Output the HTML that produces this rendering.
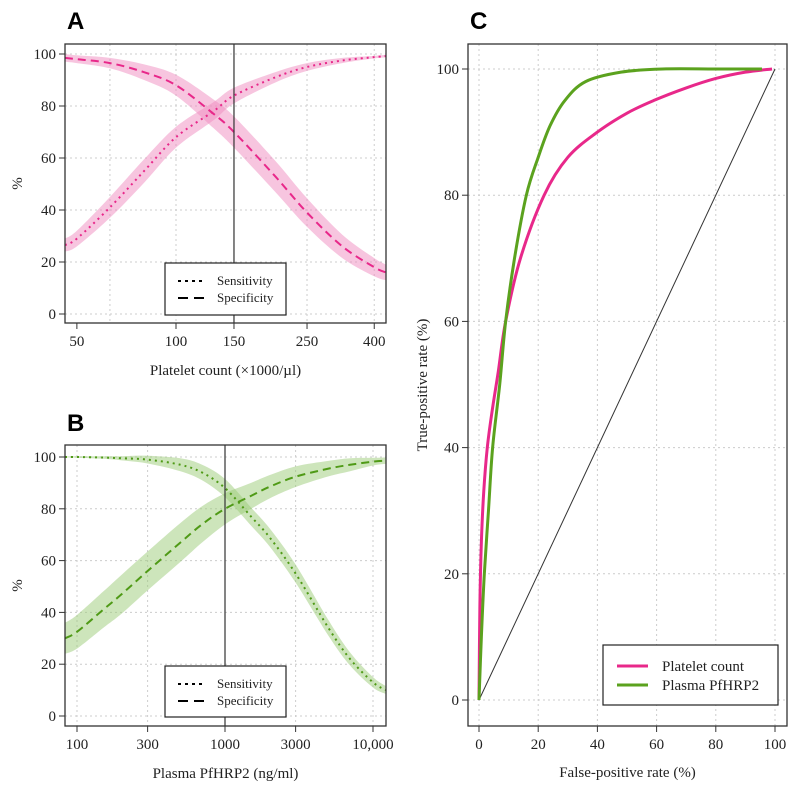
<!DOCTYPE html>
<html><head><meta charset="utf-8">
<style>
html,body{margin:0;padding:0;background:#fff}
svg{display:block}
text{font-family:"Liberation Serif",serif;fill:#222}
.tick{font-size:15px}
.lab{font-size:15px}
.title{font-family:"Liberation Sans",sans-serif;font-weight:bold;font-size:24px;fill:#000}
.grid{stroke:#ccc;stroke-dasharray:2,3;stroke-width:1}
</style></head>
<body>
<svg id="fig" width="800" height="792" viewBox="0 0 800 792" xmlns="http://www.w3.org/2000/svg"></svg>
<script>
// ---- Panel A data (platelet count) ----
const aX = [46,50,63,80,100,130,150,200,250,320,400,434];
const aSens = [26.5,29,41,55,68,78,84,91,95,97.5,98.8,99.2];
const aSensErr = [2.5,3,4,4.5,4,3.5,3,2,1.5,1,0.5,0.5];
const aSpec = [98.5,98,96.5,93,88,77,70,53,39,26,18,16];
const aSpecErr = [1.5,1.5,2,3,4,5.5,6,6,5.5,4.5,3.5,3];
const aTicks = [50,100,150,250,400];
const aGrid = [63,100,250,400];
// ---- Panel B data (PfHRP2) ----
const bX = [83,100,150,200,300,500,700,1000,1500,2000,3000,5000,7000,10000,12240];
const bSens = [100,100,99.8,99.5,99,97,94,88,77,69,55,34,22,13,10];
const bSensErr = [0.2,0.3,0.5,0.8,1.5,2.5,3,3.5,3.5,3.5,3.5,3,2.5,2,1.5];
const bSpec = [30,32.5,41,47,56,67,74,80,85,88.5,92.4,95.5,97,98.2,98.6];
const bSpecErr = [6,6.5,7,7.5,7.5,7.5,7,6,5,4.5,4,3,2.5,1.5,1.2];
const bTicks = [100,300,1000,3000,10000];
const bTickLabels = ["100","300","1000","3000","10,000"];
// ---- Panel C data (ROC) ----
const pinkFPR = [0,0.3,0.8,1.6,2.8,4.5,6.5,9,14,22,30,40,50,59,70,80,90,99];
const pinkTPR = [0,15,25,33,40,46,52,60,70,80,86,90,93,95,97,98.5,99.5,100];
const greenFPR = [0,0.8,1.8,3.2,4.6,7,9,12,16,20,24,29,36,48,62,80,95.6];
const greenTPR = [0,10,20,30,40,50,60,70,80,86,91,95,98,99.5,100,100,100];
const cTicks = [0,20,40,60,80,100];
const yTicks = [0,20,40,60,80,100];

const NS="http://www.w3.org/2000/svg";
const svg=document.getElementById('fig');
function mk(tag,attrs,parent){const e=document.createElementNS(NS,tag);for(const k in attrs)e.setAttribute(k,attrs[k]);(parent||svg).appendChild(e);return e;}
function txt(s,x,y,cls,anchor,parent){const t=mk('text',{x:x,y:y,class:cls,'text-anchor':anchor||'middle'},parent);t.textContent=s;return t;}
function smooth(pts,start){
  let d=(start||'M')+pts[0][0].toFixed(2)+','+pts[0][1].toFixed(2);
  for(let i=0;i<pts.length-1;i++){
    const p0=pts[Math.max(0,i-1)],p1=pts[i],p2=pts[i+1],p3=pts[Math.min(pts.length-1,i+2)];
    const c1=[p1[0]+(p2[0]-p0[0])/6,p1[1]+(p2[1]-p0[1])/6];
    const c2=[p2[0]-(p3[0]-p1[0])/6,p2[1]-(p3[1]-p1[1])/6];
    d+=' C'+c1.map(v=>v.toFixed(2)).join(',')+' '+c2.map(v=>v.toFixed(2)).join(',')+' '+p2[0].toFixed(2)+','+p2[1].toFixed(2);
  }
  return d;
}
function pts(xs,ys,sx,sy){return xs.map((v,i)=>[sx(v),sy(ys[i])]);}

function panel(opt){
  const g=mk('g',{});
  
  
  const {L,R,T,B}=opt.box;
  const sx=opt.sx, sy=opt.sy;
  opt.gridX.forEach(v=>{const l=mk('line',{x1:sx(v),x2:sx(v),y1:T,y2:B,class:'grid'},g);});
  yTicks.forEach(v=>{const l=mk('line',{x1:L,x2:R,y1:sy(v),y2:sy(v),class:'grid'},g);});
  opt.draw(g);
  const r=mk('rect',{x:L,y:T,width:R-L,height:B-T,fill:'none',stroke:'#333','stroke-width':1.3},g);
  
  opt.yT.forEach(v=>{mk('line',{x1:L-6,x2:L,y1:sy(v),y2:sy(v),stroke:'#333'},g);
    const t=txt(String(v),L-9,sy(v)+5,'tick','end',g);});
  opt.xT.forEach((v,i)=>{mk('line',{x1:sx(v),x2:sx(v),y1:B,y2:B+6,stroke:'#333'},g);
    const t=txt(opt.xTL[i],sx(v),B+23,'tick','middle',g);});
  const xl=txt(opt.xlab,(L+R)/2,opt.xlabY,'lab','middle',g);
  const yl=txt(opt.ylab,0,0,'lab','middle',g);yl.setAttribute('transform','translate('+opt.ylabX+','+((T+B)/2)+') rotate(-90)');
  
  const tt=txt(opt.title,opt.box.L+2,opt.titleY,'title','start',g);
  return g;
}

function band(g,xs,ys,err,sx,sy,fill,name){
  const up=xs.map((v,i)=>[sx(v),sy(Math.min(100.5,ys[i]+err[i]))]);
  const lo=xs.map((v,i)=>[sx(v),sy(ys[i]-err[i])]).reverse();
  const d=smooth(up)+' '+smooth(lo,'L')+' Z';
  const p=mk('path',{d:d,fill:fill,'fill-opacity':0.5,stroke:'none'},g);
  
}
function line(g,xs,ys,sx,sy,color,dash,w,name){
  const p=mk('path',{d:smooth(pts(xs,ys,sx,sy)),fill:'none',stroke:color,'stroke-width':w,'stroke-dasharray':dash,'stroke-linejoin':'round'},g);
  
}
function legendSD(g,x,y,w,h){
  const lg=mk('g',{},g);
  mk('rect',{x:x,y:y,width:w,height:h,fill:'#fff',stroke:'#222','stroke-width':1.2},lg);
  mk('line',{x1:x+13,x2:x+40,y1:y+18,y2:y+18,stroke:'#000','stroke-width':2,'stroke-dasharray':'3,4'},lg);
  mk('line',{x1:x+13,x2:x+40,y1:y+35,y2:y+35,stroke:'#000','stroke-width':2,'stroke-dasharray':'10,6'},lg);
  const a=txt('Sensitivity',x+52,y+22,'lab','start',lg);a.style.fontSize='13px';
  const b=txt('Specificity',x+52,y+39,'lab','start',lg);b.style.fontSize='13px';
}

// Panel A
(function(){
  const box={L:65,R:386,T:44,B:323};
  const sx=v=>176+143*Math.log(v/100), sy=v=>314-2.6*v;
  panel({name:'panel-a',box,sx,sy,gridX:aGrid,yT:yTicks,xT:aTicks,xTL:aTicks.map(String),
    xlab:'Platelet count (×1000/µl)',xlabY:375,ylab:'%',ylabX:22,title:'A',titleY:29,
    draw:g=>{
      band(g,aX,aSens,aSensErr,sx,sy,'#f08cc0','sensitivity-band');
      band(g,aX,aSpec,aSpecErr,sx,sy,'#f08cc0','specificity-band');
      line(g,aX,aSens,sx,sy,'#e8288a','2,4',2,'sensitivity-line');
      line(g,aX,aSpec,sx,sy,'#e8288a','8,5',2,'specificity-line');
      const v=mk('line',{x1:sx(150),x2:sx(150),y1:box.T,y2:box.B,stroke:'#333','stroke-width':1.2},g);
      
      legendSD(g,165,263,121,52);
    }});
})();
// Panel B
(function(){
  const box={L:65,R:386,T:445,B:726};
  const sx=v=>225+148*(Math.log10(v)-3), sy=v=>716-2.59*v;
  panel({name:'panel-b',box,sx,sy,gridX:bTicks,yT:yTicks,xT:bTicks,xTL:bTickLabels,
    xlab:'Plasma PfHRP2 (ng/ml)',xlabY:778,ylab:'%',ylabX:22,title:'B',titleY:431,
    draw:g=>{
      band(g,bX,bSpec,bSpecErr,sx,sy,'#9ccb78','specificity-band');
      band(g,bX,bSens,bSensErr,sx,sy,'#9ccb78','sensitivity-band');
      line(g,bX,bSens,sx,sy,'#4f9a16','2,4',2,'sensitivity-line');
      line(g,bX,bSpec,sx,sy,'#4f9a16','8,5',2,'specificity-line');
      const v=mk('line',{x1:sx(1000),x2:sx(1000),y1:box.T,y2:box.B,stroke:'#333','stroke-width':1.2},g);
      
      legendSD(g,165,666,121,51);
    }});
})();
// Panel C
(function(){
  const box={L:468,R:787,T:44,B:726};
  const sx=v=>479+2.96*v, sy=v=>700-6.31*v;
  panel({name:'panel-c',box,sx,sy,gridX:cTicks,yT:yTicks,xT:cTicks,xTL:cTicks.map(String),
    xlab:'False-positive rate (%)',xlabY:777,ylab:'True-positive rate (%)',ylabX:427,title:'C',titleY:29,
    draw:g=>{
      const d=mk('line',{x1:sx(0),y1:sy(0),x2:sx(100),y2:sy(100),stroke:'#333','stroke-width':1},g);
      
      line(g,pinkFPR,pinkTPR,sx,sy,'#e8288a','none',3,'roc-platelet-count');
      line(g,greenFPR,greenTPR,sx,sy,'#5ba21e','none',3,'roc-plasma-pfhrp2');
      const lg=mk('g',{},g);
      mk('rect',{x:603,y:645,width:175,height:60,fill:'#fff',stroke:'#222','stroke-width':1.2},lg);
      mk('line',{x1:617,x2:648,y1:666,y2:666,stroke:'#e8288a','stroke-width':3},lg);
      mk('line',{x1:617,x2:648,y1:685,y2:685,stroke:'#5ba21e','stroke-width':3},lg);
      const a=txt('Platelet count',662,671,'lab','start',lg);
      const b=txt('Plasma PfHRP2',662,690,'lab','start',lg);
    }});
})();
</script>
</body></html>
